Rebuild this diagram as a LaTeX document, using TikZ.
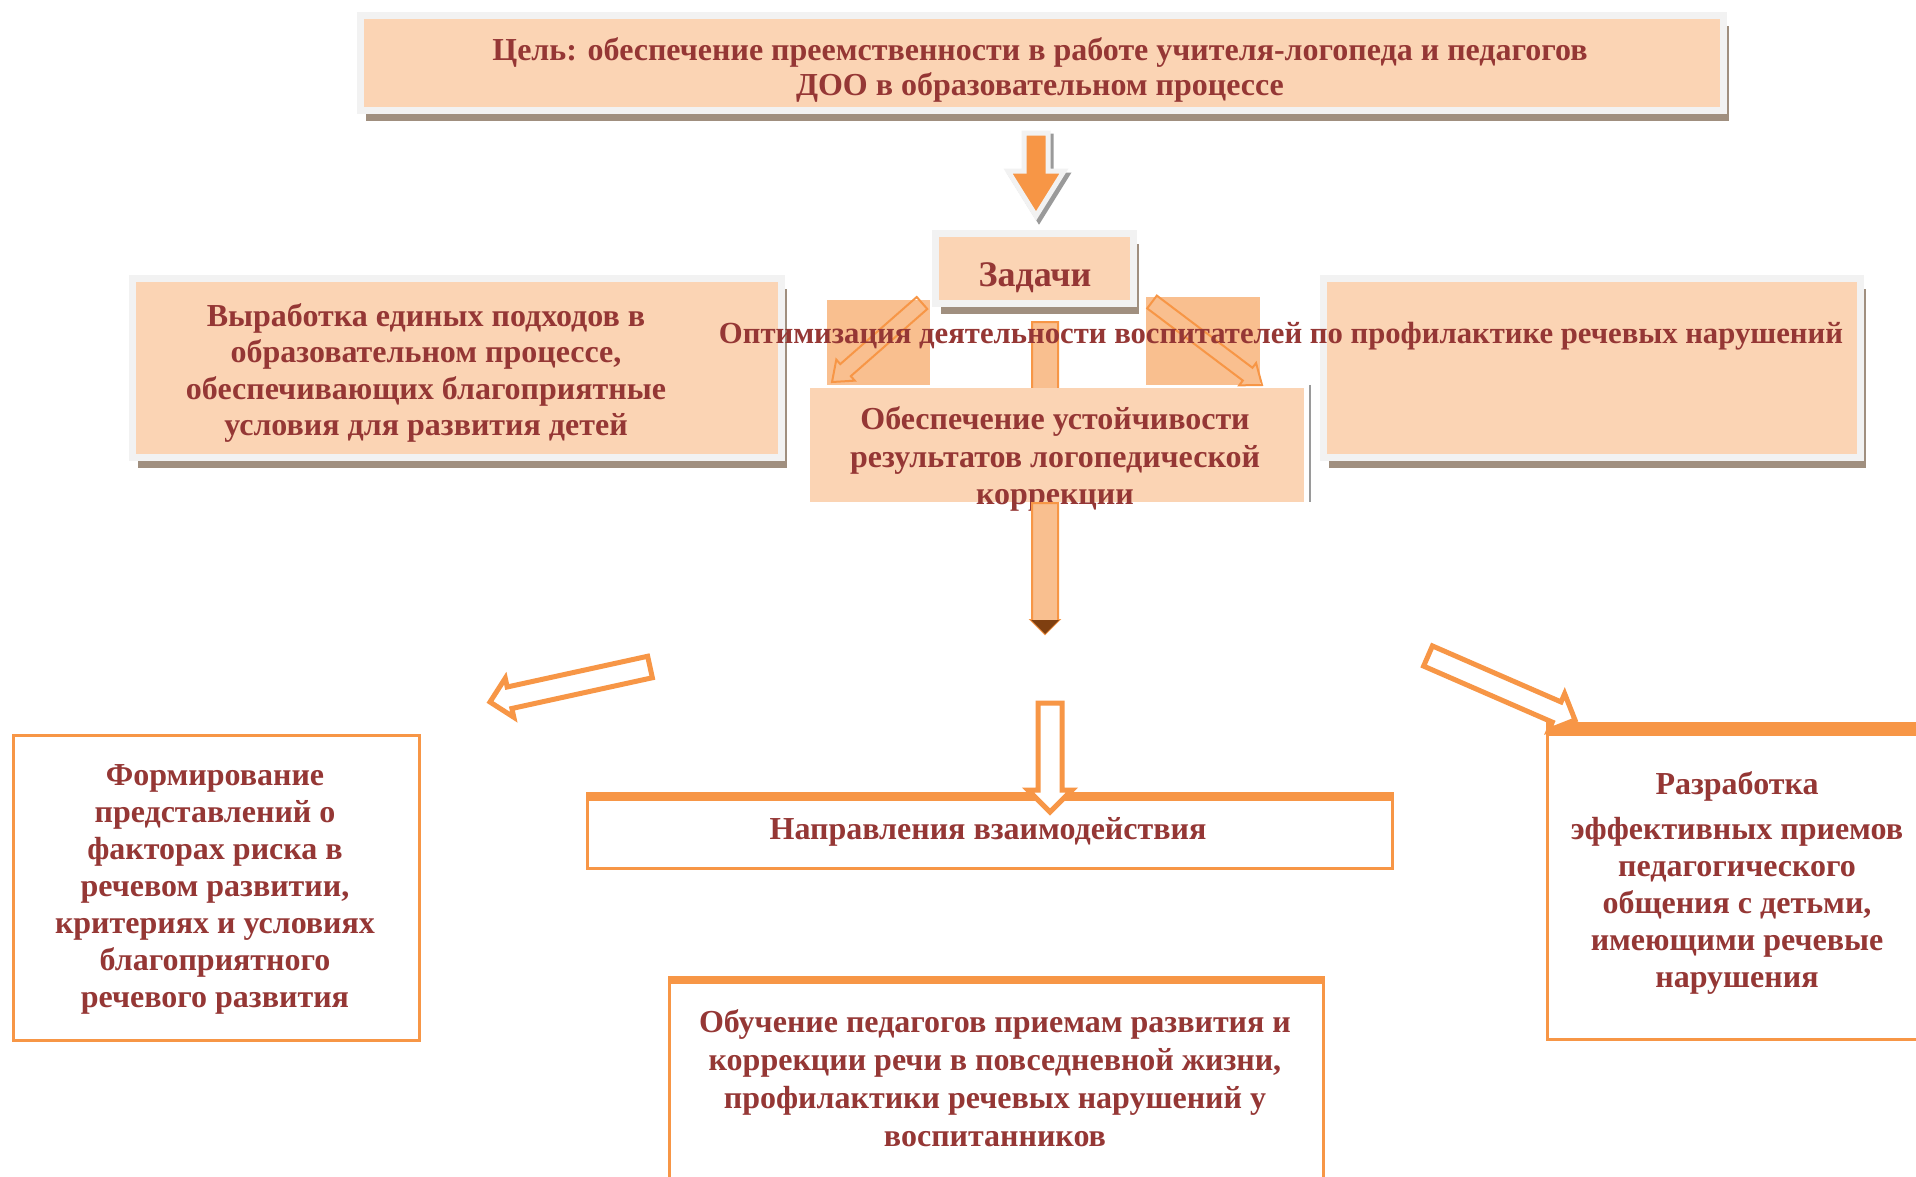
\documentclass[tikz,border=0pt]{standalone}
\usepackage{fontspec}
\setmainfont{Liberation Serif}
\usetikzlibrary{calc,shadows}
\definecolor{peach}{HTML}{FBD4B4}
\definecolor{sqpeach}{HTML}{F9BF8F}
\definecolor{orng}{HTML}{F79646}
\definecolor{txt}{HTML}{953735}
\definecolor{frgray}{HTML}{F2F2F2}
\definecolor{shd}{HTML}{A08F7F}
\definecolor{brn}{HTML}{7F3F10}
\definecolor{arrgray}{HTML}{9A9A9A}
% #1 style, #2 tail, #3 tip, #4 half shaft, #5 half head, #6 head length
\newcommand\blockarrow[6]{%
  \coordinate (ba-n) at ($(#3)!#6!(#2)$);
  \draw[#1] ($(#2)!#4!90:(#3)$) -- ($(ba-n)!#4!90:(#3)$) -- ($(ba-n)!#5!90:(#3)$) -- (#3)
    -- ($(ba-n)!#5!-90:(#3)$) -- ($(ba-n)!#4!-90:(#3)$) -- ($(#2)!#4!-90:(#3)$) -- cycle;
}
\tikzset{
  goalbox/.style={fill=peach, draw=frgray, line width=7pt, inner sep=0pt,
    general shadow={fill=shd, shadow xshift=5pt, shadow yshift=-10pt}},
  lbl/.style={text=txt, font=\bfseries\fontsize{32}{35}\selectfont, align=center, inner sep=0pt},
  obox/.style={draw=orng, line width=3pt, fill=white, inner sep=0pt},
  hollowarrow/.style={draw=orng, line width=5pt, fill=white, line join=miter},
  peacharrow/.style={draw=orng, line width=2pt, fill=sqpeach, line join=miter},
  thinarrow/.style={draw=orng, line width=2pt, line join=miter},
}
\begin{document}
\begin{tikzpicture}[x=1pt,y=-1pt]
\useasboundingbox (0,0) rectangle (1916,1176);
\clip (0,0) rectangle (1916,1176);
\fill[white] (0,0) rectangle (1916,1176);

% upper framed boxes
\node[goalbox, minimum width=1363pt, minimum height=95pt] (goal) at (1042,63) {};
\node[lbl] (goaltxt) at (1040,70) {Цель: обеспечение преемственности в работе учителя-логопеда и педагогов\\ДОО в образовательном процессе};

\node[goalbox, minimum width=198pt, minimum height=70pt] (task) at (1034.5,268.5) {};
\node[lbl, font=\bfseries\fontsize{36}{40}\selectfont] (tasktxt) at (1035,278) {Задачи};

\node[goalbox, minimum width=649pt, minimum height=179pt] (left) at (457,368) {};
\node[lbl, font=\bfseries\fontsize{32}{36.3}\selectfont] (lefttxt) at (426,373) {Выработка единых подходов в\\образовательном процессе,\\обеспечивающих благоприятные\\условия для развития детей};

\node[goalbox, minimum width=537pt, minimum height=179pt] (right) at (1592,368) {};

% top arrow
\coordinate (ta1s) at (1039,136);
\coordinate (ta2s) at (1039,220);
\blockarrow{fill=arrgray, draw=arrgray, line width=5pt}{ta1s}{ta2s}{12pt}{28pt}{45pt}
\coordinate (ta1) at (1036,133);
\coordinate (ta2) at (1036,216);
\blockarrow{fill=orng, draw=frgray, line width=5pt, line join=miter}{ta1}{ta2}{12pt}{28pt}{45pt}

% small squares with arrows
\node[fill=sqpeach, minimum width=103pt, minimum height=85pt, inner sep=0pt] (sq1) at (878.5,342) {};
\node[fill=sqpeach, minimum width=114pt, minimum height=88pt, inner sep=0pt] (sq2) at (1203,341) {};
\coordinate (sa1t) at (922,303);
\coordinate (sa1h) at (832,382);
\blockarrow{thinarrow}{sa1t}{sa1h}{8pt}{14pt}{18pt}
\coordinate (sa2t) at (1152,302);
\coordinate (sa2h) at (1262,385);
\blockarrow{thinarrow}{sa2t}{sa2h}{8pt}{14pt}{18pt}
\coordinate (ca1) at (1045,322);
\coordinate (ca2) at (1045,410);
\blockarrow{peacharrow}{ca1}{ca2}{13pt}{20pt}{20pt}

% middle box
\node[fill=peach, minimum width=494pt, minimum height=114pt, inner sep=0pt] (mid) at (1057,445) {};
\draw[arrgray, line width=2.5pt] ($(mid.north east)+(6,-3)$) -- ($(mid.south east)+(6,0)$);
\node[lbl, font=\bfseries\fontsize{32}{37.5}\selectfont] (midtxt) at (1055,459) {Обеспечение устойчивости\\результатов логопедической\\коррекции};

\node[lbl, font=\bfseries\fontsize{30.7}{35}\selectfont] (opt) at (1281,336) {Оптимизация деятельности воспитателей по профилактике речевых нарушений};

% arrow below middle box
\coordinate (la1) at (1045,503);
\coordinate (la2) at (1045,634);
\blockarrow{peacharrow}{la1}{la2}{13pt}{14pt}{14pt}
\fill[brn] ($(ba-n)!14pt!90:(la2)$) -- (la2) -- ($(ba-n)!14pt!-90:(la2)$) -- cycle;

% lower boxes
\node[obox, minimum width=805pt, minimum height=75pt] (napr) at (989.5,830.5) {};
\fill[orng] (napr.north west) rectangle ($(napr.north east)+(0,9)$);
\node[lbl] (naprtxt) at (988,832) {Направления взаимодействия};

\node[obox, minimum width=406pt, minimum height=305pt] (form) at (216,887.5) {};
\node[lbl, font=\bfseries\fontsize{32}{37}\selectfont] (formtxt) at (215,889) {Формирование\\представлений о\\факторах риска в\\речевом развитии,\\критериях и условиях\\благоприятного\\речевого развития};

\node[obox, minimum width=393pt, minimum height=316pt] (razr) at (1743.5,881) {};
\fill[orng] (razr.north west) rectangle ($(razr.north east)+(0,14)$);
\node[lbl, font=\bfseries\fontsize{32}{37}\selectfont] (razrtxt) at (1737,883) {Разработка\\[8pt]эффективных приемов\\педагогического\\общения с детьми,\\имеющими речевые\\нарушения};

\node[obox, minimum width=654pt, minimum height=223pt] (obuch) at (996,1088.5) {};
\fill[orng] (obuch.north west) rectangle ($(obuch.north east)+(0,8)$);
\node[lbl, font=\bfseries\fontsize{32}{38}\selectfont] (obuchtxt) at (995,1078) {Обучение педагогов приемам развития и\\коррекции речи в повседневной жизни,\\профилактики речевых нарушений у\\воспитанников};

% hollow arrows
\coordinate (cb1) at (1050,703);
\coordinate (cb2) at (1050,812);
\blockarrow{hollowarrow}{cb1}{cb2}{12pt}{22pt}{22pt}
\coordinate (lb1) at (650,667);
\coordinate (lb2) at (490,702);
\blockarrow{hollowarrow}{lb1}{lb2}{11pt}{20pt}{20pt}
\coordinate (rb1) at (1428,656);
\coordinate (rb2) at (1575,720);
\blockarrow{hollowarrow}{rb1}{rb2}{11pt}{20pt}{20pt}
\end{tikzpicture}
\end{document}
